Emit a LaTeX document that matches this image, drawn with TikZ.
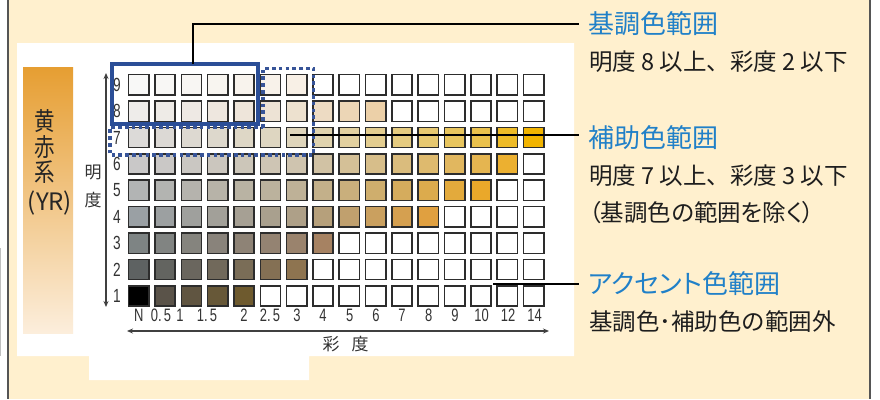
\documentclass[tikz,border=0pt]{standalone}
\usepackage{fontspec}
\newfontfamily\jp{Noto Sans CJK JP}
\newfontfamily\jpnarrow[FakeStretch=0.82]{Noto Sans CJK JP}
\newfontfamily\nar[FakeStretch=0.72]{Liberation Sans}
\usetikzlibrary{arrows.meta}
\definecolor{beige}{RGB}{255,240,206}
\definecolor{frame}{RGB}{85,85,85}
\definecolor{cellline}{RGB}{45,45,45}
\definecolor{headblue}{RGB}{32,128,200}
\definecolor{bodytext}{RGB}{30,30,30}
\definecolor{boxblue}{RGB}{43,78,151}
\definecolor{dotblue}{RGB}{55,84,152}
\definecolor{barT}{RGB}{230,158,50}
\definecolor{barM}{RGB}{243,196,112}
\definecolor{barB}{RGB}{252,238,220}
\definecolor{N9}{RGB}{248,248,247}\definecolor{S9}{RGB}{248,240,230}
\definecolor{N8}{RGB}{238,236,234}\definecolor{S8}{RGB}{236,208,168}
\definecolor{N7}{RGB}{220,218,216}\definecolor{S7}{RGB}{242,180,0}
\definecolor{N6}{RGB}{201,200,200}\definecolor{S6}{RGB}{236,176,48}
\definecolor{N5}{RGB}{178,180,180}\definecolor{S5}{RGB}{234,168,42}
\definecolor{N4}{RGB}{154,160,164}\definecolor{S4}{RGB}{224,160,64}
\definecolor{N3}{RGB}{126,132,132}\definecolor{S3}{RGB}{166,130,98}
\definecolor{N2}{RGB}{94,98,98}\definecolor{S2}{RGB}{142,116,80}
\definecolor{N1}{RGB}{86,82,78}\definecolor{S1}{RGB}{110,90,46}
\begin{document}
\begin{tikzpicture}[x=1pt,y=-1pt,
  cell/.style={draw=cellline, line width=1.5pt, minimum size=20.3pt, inner sep=0pt, outer sep=0pt},
  head/.style={anchor=west, inner sep=0pt, font=\jp\fontsize{26}{30}\selectfont, text=headblue},
  body/.style={anchor=west, inner sep=0pt, font=\jp\fontsize{23.5}{28}\selectfont, text=bodytext},
  leader/.style={draw=black, line width=2pt},
  rowlab/.style={inner sep=0pt, font=\nar\fontsize{19}{21}\selectfont, text=black!80},
  collab/.style={inner sep=0pt, font=\nar\fontsize{18}{20}\selectfont, text=black!80},
  axlab/.style={inner sep=0pt, font=\jp\fontsize{17}{19}\selectfont, text=black!80},
  axisarrow/.style={draw=black!75, line width=1.3pt, {Stealth[length=6pt,width=5pt]}-{Stealth[length=6pt,width=5pt]}}
]
\useasboundingbox (0,0) rectangle (880,399);
\fill[white] (0,0) rectangle (880,399);
\fill[beige] (8,0) rectangle (870,399);
\draw[frame, line width=2.5pt] (8,0) -- (8,399);
\draw[frame, line width=2.5pt] (870,0) -- (870,399);
\draw[black!25, line width=1pt] (0.5,248) -- (0.5,356);
% white panel
\fill[white] (17,43) -- (574,43) -- (574,356) -- (309,356) -- (309,380) -- (89,380) -- (89,356) -- (17,356) -- cycle;
% left gradient bar
\shade[top color=barT, middle color=barM, bottom color=barB] (23,67) rectangle (73,333);
\node[inner sep=0pt, font=\jpnarrow\fontsize{25}{27}\selectfont, text=black!85] (yr1) at (45,121) {黄};
\node[inner sep=0pt, font=\jpnarrow\fontsize{25}{27}\selectfont, text=black!85] (yr2) at (45,147) {赤};
\node[inner sep=0pt, font=\jpnarrow\fontsize{25}{27}\selectfont, text=black!85] (yr3) at (45,172) {系};
\node[inner sep=0pt, font=\jp\fontsize{24}{26}\selectfont, text=black!85] (yr4) at (50,203) {(YR)};
% axis labels
\node[axlab] (m1) at (93,172) {明};
\node[axlab] (m2) at (93,200) {度};
\node[axlab] (s1) at (331,344) {彩};
\node[axlab] (s2) at (360,344) {度};
% cells
\foreach \r/\K/\M in {9/7/3,8/10/6,7/16/14,6/15/12,5/14/10,4/12/8,3/8/4,2/7/3,1/5/2}{
  \foreach \c [count=\i] in {0,0.5,1,1.5,2,2.5,3,4,5,6,7,8,9,10,12,14}{
    \pgfmathsetmacro\p{min(100,100*(\c/\M)^1.3)}
    \ifnum\i>\K\relax
      \def\fc{white}
    \else
      \edef\fc{S\r!\p!N\r}
    \fi
    \ifnum\r=1 \ifnum\i=1 \def\fc{black}\fi\fi
    \node[cell, fill=\fc] (c\r-\i) at ({138.75+(\i-1)*26.33},{84.75+(9-\r)*26.4}) {};
  }
  \node[rowlab] (r\r) at (117,{84.75+(9-\r)*26.4}) {\r};
}
% column labels
\foreach \t/\xx in {N/138.75,0.\kern2pt5/161,1/180,1.\kern2pt5/207,2/244,2.\kern2pt5/270,3/297,4/323,5/349.6,6/376,7/402,8/428.6,9/455,10/481.5,12/508,14/534.5}{
  \node[collab] at (\xx,315) {\t};
}
% axes
\coordinate (vt) at (106,73);
\coordinate (vb) at (106,307);
\draw[axisarrow] (vt) -- (vb);
\coordinate (hl) at (127,331);
\coordinate (hr) at (549,331);
\draw[axisarrow] (hl) -- (hr);
% blue boxes
\draw[dotblue, line width=3.6pt, dash pattern=on 3.6pt off 3.2pt]
  (263,127.5) -- (263,68.5) -- (313.5,68.5) -- (313.5,155) -- (110,155) -- (110,127.5) -- cycle;
\draw[boxblue, line width=4pt] (111.5,64) rectangle (258,124);
% texts
\node[head] (h1) at (588,24) {基調色範囲};
\node[body] (b1) at (589,62) {明度 8 以上、彩度 2 以下};
\node[head] (h2) at (588,137.5) {補助色範囲};
\node[body] (b2) at (589,176) {明度 7 以上、彩度 3 以下};
\node[body] (b3) at (589,213) {\addfontfeature{RawFeature=+palt}（基調色の範囲を除く）};
\node[head] (h3) at (588,284) {{\addfontfeature{RawFeature=+palt}アクセント}色範囲};
\node[body] (b4) at (589,322) {基調色･補助色の範囲外};
% leaders
\coordinate (p1) at (193,64);
\coordinate (p2) at (290,135);
\coordinate (p3) at (493,284);
\draw[leader, shorten >=9pt] (p1) |- (h1.west);
\draw[leader, shorten >=9pt] (p2) -- (h2.west |- p2);
\draw[leader, shorten >=9pt] (p3) -- (h3.west |- p3);
\end{tikzpicture}
\end{document}
